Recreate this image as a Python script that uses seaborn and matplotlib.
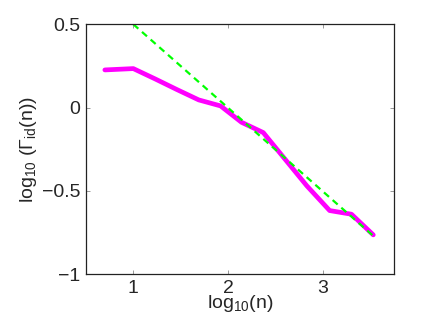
import matplotlib
matplotlib.use("Agg")
import matplotlib.pyplot as plt
import seaborn as sns
import numpy as np
import pandas as pd

# data
log_n = [0.70, 1.00, 1.23, 1.46, 1.69, 1.92, 2.14, 2.37, 2.60, 2.83, 3.07, 3.30, 3.53]
log_gamma = [0.226, 0.234, 0.172, 0.108, 0.046, 0.010, -0.088, -0.150, -0.310, -0.470, -0.618, -0.640, -0.764]
fit_x = [1.00, 3.53]
fit_y = [0.50, -0.77]

sns.set_style("ticks")
plt.rcParams['font.family'] = ['Liberation Sans', 'DejaVu Sans']
plt.rcParams['mathtext.fontset'] = 'custom'
plt.rcParams['mathtext.rm'] = 'Liberation Sans'
plt.rcParams['mathtext.it'] = 'Liberation Sans:italic'

df = pd.DataFrame({'x': log_n, 'y': log_gamma})
fit = pd.DataFrame({'x': fit_x, 'y': fit_y})

fig = plt.figure(figsize=(4.36, 3.28), dpi=100)
ax = fig.add_axes([0.197, 0.164, 0.707, 0.762])

sns.lineplot(data=df, x='x', y='y', ax=ax, color='#ff00ff', linewidth=3.4)
sns.lineplot(data=fit, x='x', y='y', ax=ax, color='#00ff00', linewidth=1.6,
             linestyle=(0, (3, 2.2)))

ax.set_xlim(0.5, 3.75)
ax.set_ylim(-1, 0.5)
ax.set_xticks([1, 2, 3])
ax.set_xticklabels(['1', '2', '3'])
ax.set_yticks([-1, -0.5, 0, 0.5])
ax.set_yticklabels(['\u22121', '\u22120.5', '0', '0.5'])
ax.tick_params(direction='in', length=3, width=0.6, labelsize=14, pad=4,
               top=True, right=True, color='#888888')
for s in ax.spines.values():
    s.set_linewidth(0.9)
    s.set_color('#222222')

ax.set_xlabel(r'log$_{10}$(n)', fontsize=14, labelpad=-2.5)
ax.set_ylabel(r'log$_{10}$ ($\Gamma_{\mathrm{id}}$(n))', fontsize=14, labelpad=2)

fig.savefig('out.png', dpi=100)
